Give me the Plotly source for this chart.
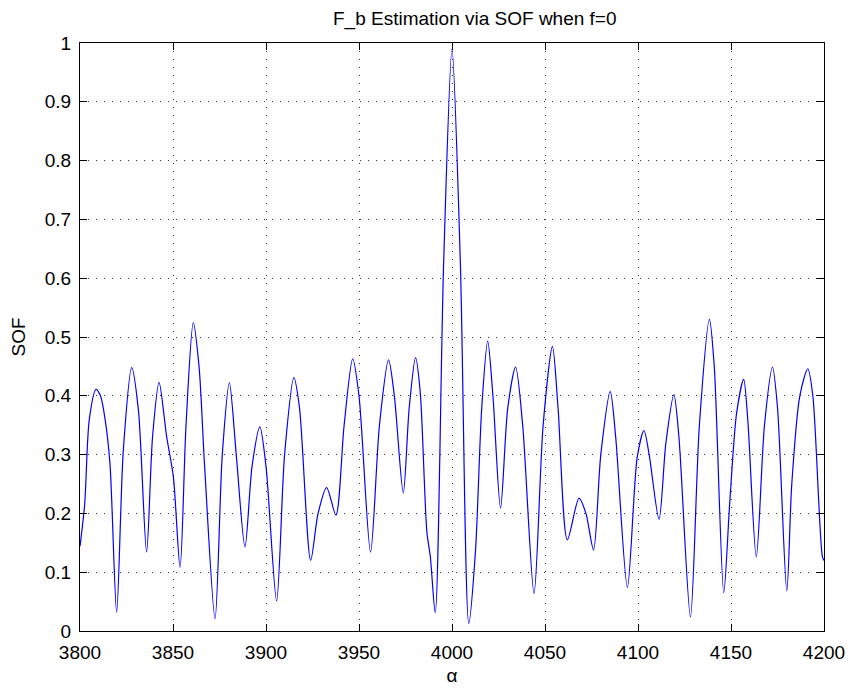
import plotly.graph_objects as go

alpha = [3800.0, 3802.5, 3805, 3808.6, 3811, 3813.4, 3816.1, 3819.7, 3823.3, 3827.8,
         3831.4, 3835.8, 3839, 3842.5, 3846.6, 3850.2, 3853.8, 3857, 3860.9, 3864,
         3867, 3872.6, 3876.5, 3880.3, 3884, 3888.7, 3892.5, 3896.7, 3900, 3905.7,
         3910, 3915, 3918, 3924, 3928, 3932.6, 3937.6, 3942, 3946.6, 3950,
         3956.2, 3961, 3965.9, 3969, 3973.8, 3977, 3980.4, 3982.9, 3986.5, 3988.3,
         3991, 3995.5, 4000, 4004.5, 4009, 4012.6, 4016, 4019.2, 4022, 4026.1,
         4030, 4034.2, 4038, 4044.1, 4049, 4054, 4057, 4062, 4068.3, 4072,
         4076.1, 4080, 4085.1, 4088, 4094.3, 4099.6, 4103.2, 4106, 4111.3, 4115,
         4119.3, 4122, 4128.2, 4133, 4138.4, 4141, 4146.1, 4149.3, 4153, 4156.8,
         4159, 4163.6, 4168, 4172.3, 4175, 4180.0, 4182.7, 4187, 4191.3, 4194,
         4199.1, 4200]
sof = [0.144, 0.215, 0.36, 0.411, 0.400, 0.362, 0.285, 0.032, 0.308, 0.448,
       0.376, 0.134, 0.33, 0.423, 0.330, 0.262, 0.108, 0.35, 0.524, 0.45,
       0.28, 0.021, 0.30, 0.422, 0.30, 0.143, 0.28, 0.347, 0.28, 0.051,
       0.30, 0.431, 0.38, 0.120, 0.20, 0.244, 0.197, 0.35, 0.463, 0.40,
       0.134, 0.35, 0.461, 0.40, 0.235, 0.38, 0.465, 0.407, 0.168, 0.128,
       0.031, 0.625, 0.99, 0.625, 0.013, 0.135, 0.38, 0.493, 0.40, 0.209,
       0.38, 0.449, 0.35, 0.064, 0.35, 0.484, 0.38, 0.155, 0.226, 0.20,
       0.138, 0.30, 0.407, 0.33, 0.074, 0.296, 0.341, 0.30, 0.190, 0.32,
       0.402, 0.33, 0.024, 0.35, 0.530, 0.45, 0.065, 0.217, 0.37, 0.428,
       0.36, 0.126, 0.35, 0.449, 0.38, 0.068, 0.251, 0.40, 0.446, 0.40,
       0.127, 0.12]

x_ticks = [3800, 3850, 3900, 3950, 4000, 4050, 4100, 4150, 4200]
y_ticks = [0, 0.1, 0.2, 0.3, 0.4, 0.5, 0.6, 0.7, 0.8, 0.9, 1]
y_tick_labels = ["0", "0.1", "0.2", "0.3", "0.4", "0.5", "0.6", "0.7", "0.8", "0.9", "1"]

FONT = "Liberation Sans, Arial, Helvetica, sans-serif"

fig = go.Figure()
fig.add_trace(go.Scatter(
    x=alpha, y=sof, mode="lines",
    line=dict(color="#0000ff", width=1.2, shape="spline", smoothing=0.8),
    showlegend=False, hoverinfo="skip"))

axis_common = dict(
    showline=True, linecolor="black", linewidth=1, mirror="ticks",
    ticks="inside", ticklen=7, tickcolor="black", tickwidth=1,
    showgrid=True, gridcolor="#333333", gridwidth=1, griddash="1px,7px",
    zeroline=False, tickfont=dict(family=FONT, size=19, color="black"),
)

fig.update_layout(
    width=852, height=688,
    margin=dict(l=80, r=28, t=43, b=57, autoexpand=False),
    paper_bgcolor="white", plot_bgcolor="white",
    title=dict(text="F_b Estimation via SOF when f=0", x=0.5306, xanchor="center",
               xref="paper", y=1 - 18 / 688, yref="container", yanchor="middle",
               font=dict(family=FONT, size=19, color="black")),
    xaxis=dict(range=[3800, 4200], tickvals=x_ticks, ticktext=[str(v) for v in x_ticks],
               title=dict(text="α", font=dict(family=FONT, size=19, color="black"), standoff=6),
               ticklabelstandoff=4, automargin=False, **axis_common),
    yaxis=dict(range=[0, 1], tickvals=y_ticks, ticktext=y_tick_labels,
               title=dict(text="SOF", font=dict(family=FONT, size=19, color="black"), standoff=14),
               ticklabelstandoff=4, automargin=False, **axis_common),
)

fig.write_html("out.html")
